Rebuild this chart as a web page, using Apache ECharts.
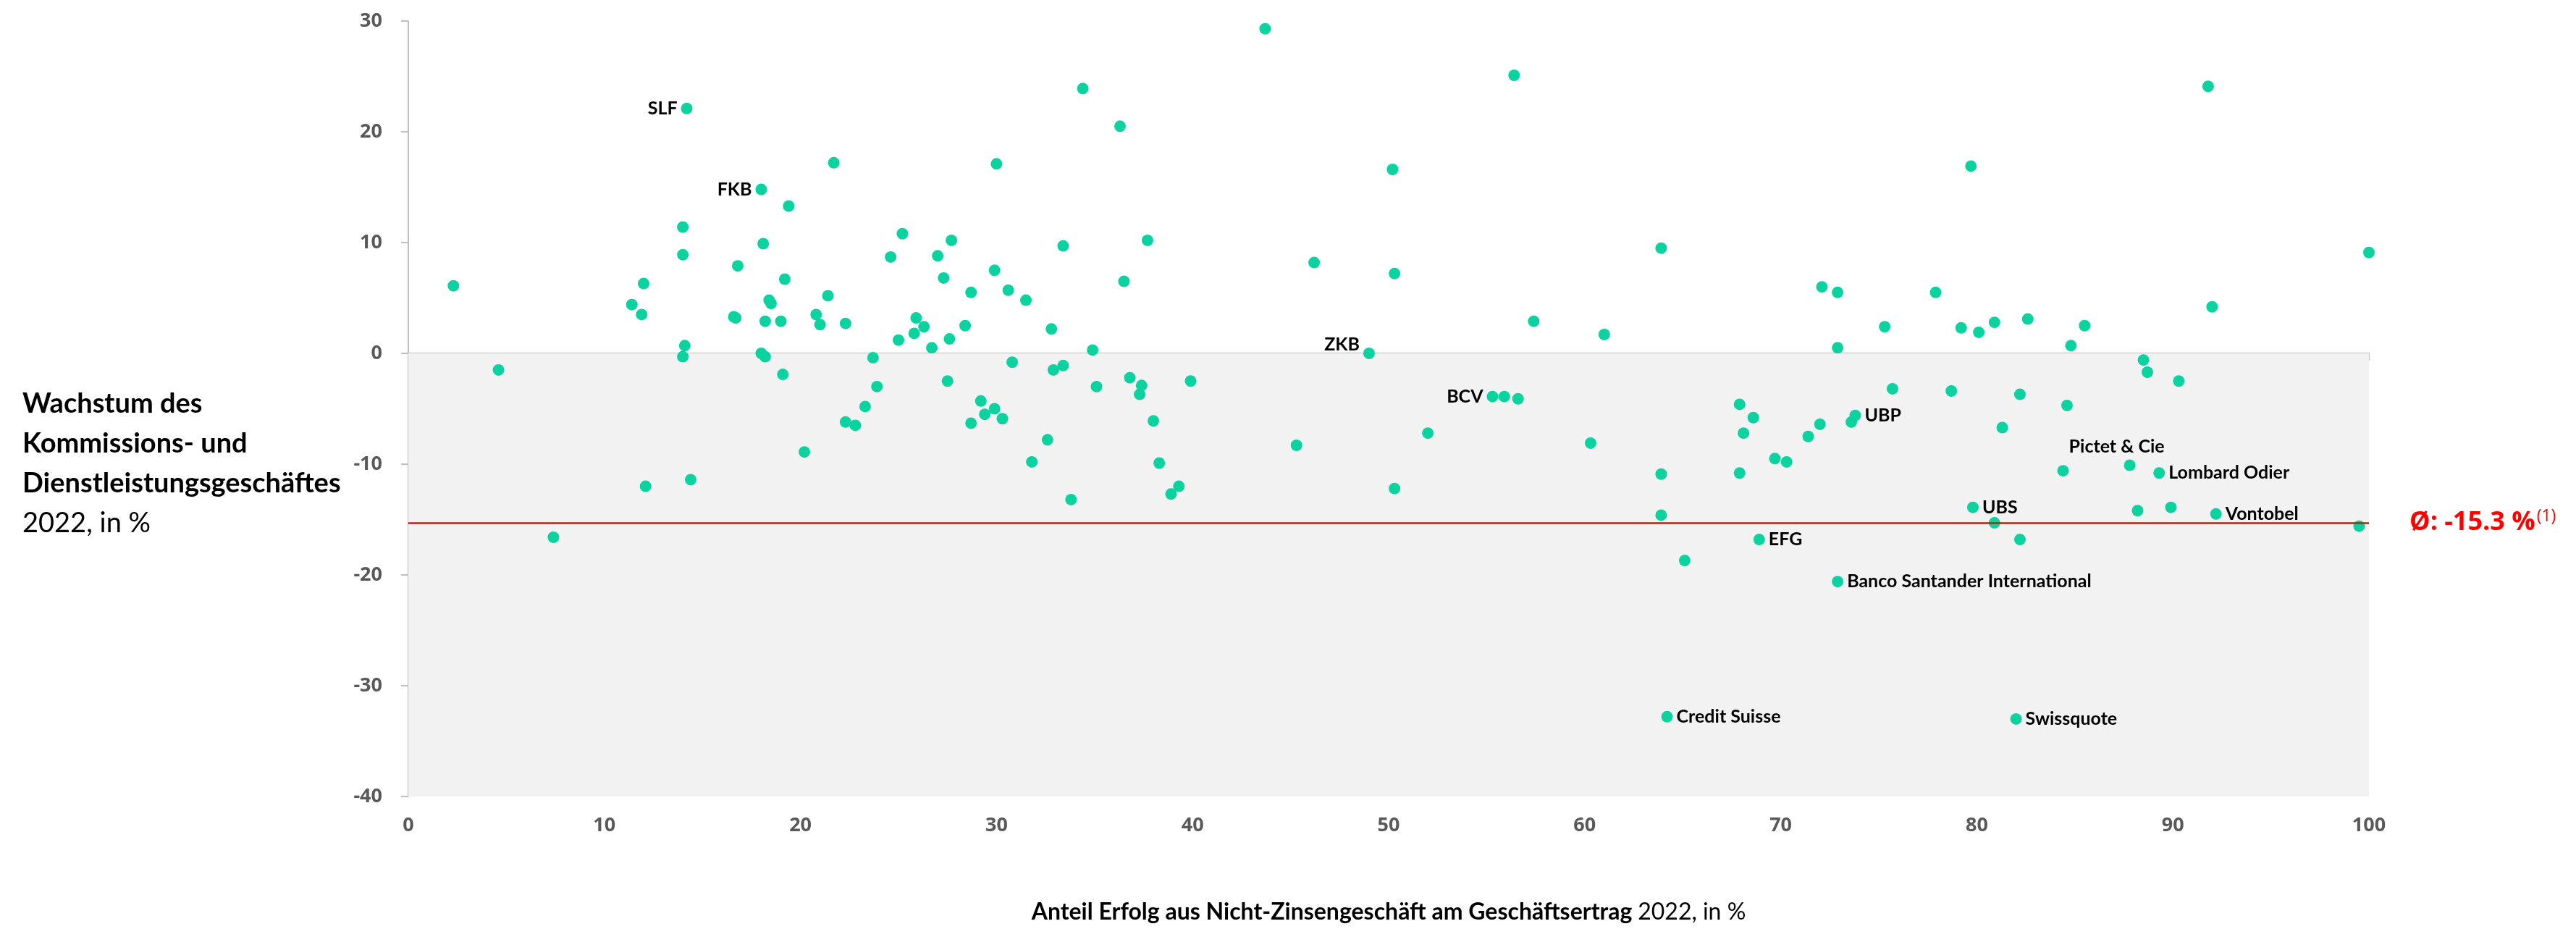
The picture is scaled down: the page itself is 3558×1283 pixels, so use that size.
<!DOCTYPE html>
<html lang="de">
<head>
<meta charset="UTF-8">
<title>Kommissions- und Dienstleistungsgeschäft 2022</title>
<script src="https://cdn.jsdelivr.net/npm/echarts@6/dist/echarts.min.js"></script>
<style>html, body { margin: 0; padding: 0; background: #fff; }</style>
</head>
<body>
<div id="chart" style="width: 3558px; height: 1283px;"></div>
<script>
// Anteil Erfolg aus Nicht-Zinsengeschäft am Geschäftsertrag 2022, in %
var anteil = [
  2.3, 4.6, 7.4, 11.4, 11.9, 12.0, 12.1, 14.0, 14.0, 14.1,
  14.0, 14.2, 14.4, 16.6, 16.7, 16.8, 18.0, 18.1, 18.0, 18.2,
  18.2, 18.4, 18.5, 19.0, 19.1, 19.2, 19.4, 20.2, 20.8, 21.0,
  21.4, 21.7, 22.3, 22.3, 22.8, 23.3, 23.7, 23.9, 24.6, 25.0,
  25.2, 25.8, 25.9, 26.3, 26.7, 27.0, 27.3, 27.5, 27.6, 27.7,
  28.4, 28.7, 28.7, 29.2, 29.4, 29.9, 29.9, 30.0, 30.3, 30.6,
  30.8, 31.5, 31.8, 32.6, 32.8, 32.9, 33.4, 33.4, 33.8, 34.4,
  34.9, 35.1, 36.3, 36.5, 36.8, 37.3, 37.4, 37.7, 38.0, 38.3,
  38.9, 39.3, 39.9, 43.7, 45.3, 46.2, 49.0, 50.2, 50.3, 50.3,
  52.0, 55.3, 55.9, 56.4, 56.6, 57.4, 60.3, 61.0, 63.9, 63.9,
  63.9, 64.2, 65.1, 67.9, 67.9, 68.1, 68.6, 68.9, 69.7, 70.3,
  71.4, 72.0, 72.1, 72.9, 72.9, 72.9, 73.6, 73.8, 75.3, 75.7,
  77.9, 78.7, 79.2, 79.7, 79.8, 80.1, 80.9, 80.9, 81.3, 82.0,
  82.2, 82.2, 82.6, 84.4, 84.6, 84.8, 85.5, 87.8, 88.2, 88.5,
  88.7, 89.3, 89.9, 90.3, 91.8, 92.0, 92.2, 99.5, 100.0
];
// Wachstum des Kommissions- und Dienstleistungsgeschäftes 2022, in %
var wachstum = [
  6.1, -1.5, -16.6, 4.4, 3.5, 6.3, -12.0, 11.4, 8.9, 0.7,
  -0.3, 22.1, -11.4, 3.3, 3.2, 7.9, 14.8, 9.9, 0.0, -0.3,
  2.9, 4.8, 4.5, 2.9, -1.9, 6.7, 13.3, -8.9, 3.5, 2.6,
  5.2, 17.2, 2.7, -6.2, -6.5, -4.8, -0.4, -3.0, 8.7, 1.2,
  10.8, 1.8, 3.2, 2.4, 0.5, 8.8, 6.8, -2.5, 1.3, 10.2,
  2.5, 5.5, -6.3, -4.3, -5.5, 7.5, -5.0, 17.1, -5.9, 5.7,
  -0.8, 4.8, -9.8, -7.8, 2.2, -1.5, -1.1, 9.7, -13.2, 23.9,
  0.3, -3.0, 20.5, 6.5, -2.2, -3.7, -2.9, 10.2, -6.1, -9.9,
  -12.7, -12.0, -2.5, 29.3, -8.3, 8.2, 0.0, 16.6, 7.2, -12.2,
  -7.2, -3.9, -3.9, 25.1, -4.1, 2.9, -8.1, 1.7, 9.5, -10.9,
  -14.6, -32.8, -18.7, -4.6, -10.8, -7.2, -5.8, -16.8, -9.5, -9.8,
  -7.5, -6.4, 6.0, 5.5, 0.5, -20.6, -6.2, -5.6, 2.4, -3.2,
  5.5, -3.4, 2.3, 16.9, -13.9, 1.9, 2.8, -15.3, -6.7, -33.0,
  -3.7, -16.8, 3.1, -10.6, -4.7, 0.7, 2.5, -10.1, -14.2, -0.6,
  -1.7, -10.8, -13.9, -2.5, 24.1, 4.2, -14.5, -15.6, 9.1
];
// Beschriftete Banken ('' = ohne Beschriftung)
var bank = [
  '', '', '', '', '', '', '', '', '', '',
  '', 'SLF', '', '', '', '', 'FKB', '', '', '',
  '', '', '', '', '', '', '', '', '', '',
  '', '', '', '', '', '', '', '', '', '',
  '', '', '', '', '', '', '', '', '', '',
  '', '', '', '', '', '', '', '', '', '',
  '', '', '', '', '', '', '', '', '', '',
  '', '', '', '', '', '', '', '', '', '',
  '', '', '', '', '', '', 'ZKB', '', '', '',
  '', 'BCV', '', '', '', '', '', '', '', '',
  '', 'Credit Suisse', '', '', '', '', '', 'EFG', '', '',
  '', '', '', '', '', 'Banco Santander International', '', 'UBP', '', '',
  '', '', '', '', 'UBS', '', '', '', '', 'Swissquote',
  '', '', '', '', '', '', '', 'Pictet & Cie', '', '',
  '', 'Lombard Odier', '', '', '', '', 'Vontobel', '', ''
];
var durchschnitt = -15.3;
var xTicks = { min: 0, max: 100, step: 10 };
var yTicks = { min: -40, max: 30, step: 10 };

var labelPos = { 'SLF': 'left', 'FKB': 'left', 'ZKB': 'left', 'BCV': 'left', 'Pictet & Cie': 'top' };
var labelOffset = { 'ZKB': [0, -12], 'Pictet & Cie': [-18, 0] };

var chart = echarts.init(document.getElementById('chart'));

var points = anteil.map(function (x, i) {
  var item = { value: [x, wachstum[i]] };
  if (bank[i]) {
    item.label = {
      show: true,
      formatter: bank[i],
      position: labelPos[bank[i]] || 'right',
      offset: labelOffset[bank[i]] || [0, 0]
    };
  }
  return item;
});

var axisGray = '#bfbfbf';
var labelGray = '#595959';
var nameFont = 'Lato';

var option = {
  animation: false,
  backgroundColor: '#ffffff',
  title: {
    left: 31,
    top: 530,
    padding: 0,
    text: '{b|Wachstum des}\n{b|Kommissions- und}\n{b|Dienstleistungsgeschäftes}\n{r|2022, in %}',
    textStyle: {
      rich: {
        b: { fontFamily: nameFont, fontWeight: 'bold', fontSize: 38, lineHeight: 55, color: '#000' },
        r: { fontFamily: nameFont, fontWeight: 'normal', fontSize: 38, lineHeight: 55, color: '#000' }
      }
    }
  },
  grid: { left: 564, right: 286, top: 29, bottom: 183 },
  xAxis: [
    {
      type: 'value',
      min: xTicks.min, max: xTicks.max, interval: xTicks.step,
      position: 'bottom',
      axisLine: { show: false, onZero: false },
      axisTick: { show: false },
      splitLine: { show: false },
      axisLabel: { margin: 27, color: labelGray, fontFamily: 'Open Sans', fontWeight: 'bold', fontSize: 27 },
      name: '{b|Anteil Erfolg aus Nicht-Zinsengeschäft am Geschäftsertrag }{r|2022, in %}',
      nameLocation: 'middle',
      nameGap: 144,
      nameTextStyle: {
        rich: {
          b: { fontFamily: nameFont, fontWeight: 'bold', fontSize: 32, color: '#000' },
          r: { fontFamily: nameFont, fontWeight: 'normal', fontSize: 32, color: '#000' }
        }
      }
    },
    {
      type: 'value',
      min: xTicks.min, max: xTicks.max, interval: xTicks.step,
      position: 'bottom',
      axisLine: { show: true, onZero: true, lineStyle: { color: axisGray, width: 2 } },
      axisTick: { show: true, length: 10, lineStyle: { color: axisGray, width: 2 } },
      axisLabel: { show: false },
      splitLine: { show: false }
    }
  ],
  yAxis: {
    type: 'value',
    min: yTicks.min, max: yTicks.max, interval: yTicks.step,
    axisLine: { show: true, lineStyle: { color: axisGray, width: 2 } },
    axisTick: { show: true, length: 10, lineStyle: { color: axisGray, width: 2 } },
    splitLine: { show: false },
    axisLabel: { margin: 36, color: labelGray, fontFamily: 'Open Sans', fontWeight: 'bold', fontSize: 27 }
  },
  series: [
    {
      // grauer Bereich unter 0
      type: 'scatter',
      z: -1,
      data: [],
      silent: true,
      markArea: {
        silent: true,
        itemStyle: { color: '#f2f2f2' },
        data: [[{ yAxis: yTicks.min }, { yAxis: 0 }]]
      }
    },
    {
      type: 'scatter',
      clip: false,
      symbol: 'circle',
      symbolSize: 16,
      itemStyle: { color: '#0bd3a0', opacity: 1 },
      label: {
        show: false,
        distance: 5,
        color: '#000',
        fontFamily: nameFont,
        fontWeight: 'bold',
        fontSize: 25
      },
      data: points,
      markLine: {
        silent: true,
        symbol: 'none',
        lineStyle: { color: '#ff0000', width: 2.5, type: 'solid' },
        label: {
          show: true,
          position: 'end',
          distance: 56,
          formatter: '{a|Ø: ' + durchschnitt.toFixed(1) + ' %}{s|(1)}',
          rich: {
            a: { color: '#ff0000', fontFamily: 'Open Sans', fontWeight: 'bold', fontSize: 36 },
            s: { color: '#ff0000', fontFamily: 'Open Sans', fontSize: 23, padding: [0, 0, 18, 2] }
          }
        },
        data: [{ yAxis: durchschnitt }]
      }
    }
  ]
};

chart.setOption(option);
</script>
</body>
</html>
